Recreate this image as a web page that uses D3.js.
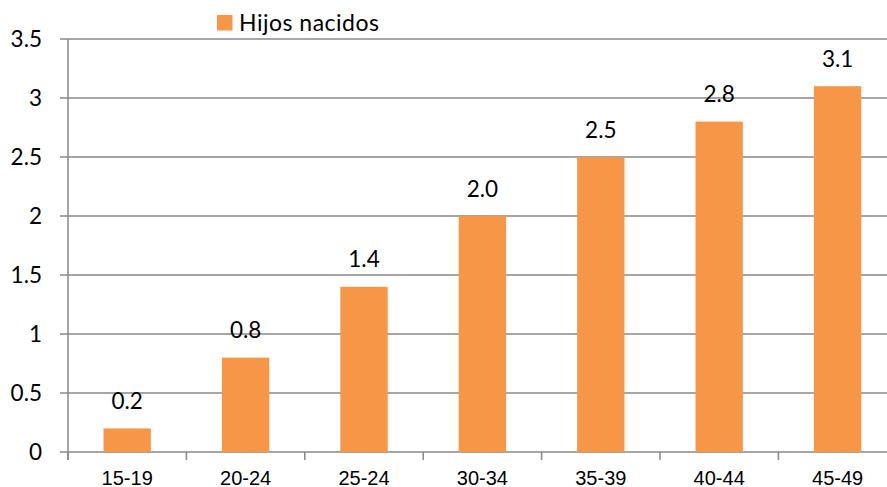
<!DOCTYPE html>
<html><head><meta charset="utf-8">
<script src="https://cdn.jsdelivr.net/npm/d3@7"></script>
<style>body{margin:0;background:#fff;}svg{display:block;}</style>
</head><body>
<svg id="c" width="887" height="487"></svg>
<script>
const categories = ["15-19","20-24","25-24","30-34","35-39","40-44","45-49"];
const values = [0.2, 0.8, 1.4, 2.0, 2.5, 2.8, 3.1];
const yTicks = [0, 0.5, 1, 1.5, 2, 2.5, 3, 3.5];
const seriesName = "Hijos nacidos";

(function(){
const svg = d3.select("#c");
const mLeft = 68, mTop = 39, mBottom = 452, bandW = 118.4;
const mRight = mLeft + bandW * categories.length;
const color = "#F79646", grid = "#888888";
const numFont = "Lato, 'Open Sans', sans-serif";

const x = d3.scaleBand().domain(categories).range([mLeft, mRight]).paddingInner(0.6).paddingOuter(0.3);
const y = d3.scaleLinear().domain([0, 3.5]).range([mBottom, mTop]);

// gridlines
svg.append("g").selectAll("line").data(yTicks).join("line")
  .attr("x1", mLeft - 8).attr("x2", 887)
  .attr("y1", d => y(d)).attr("y2", d => y(d))
  .attr("stroke", grid).attr("stroke-width", 1.5);

// bars
svg.append("g").selectAll("rect").data(values).join("rect")
  .attr("x", (d,i) => x(categories[i])).attr("width", x.bandwidth())
  .attr("y", d => y(d)).attr("height", d => y(0) - y(d))
  .attr("fill", color);

// y axis line
svg.append("line").attr("x1", mLeft).attr("x2", mLeft).attr("y1", mTop).attr("y2", mBottom + 8)
  .attr("stroke", grid).attr("stroke-width", 1.5);

// x ticks at band boundaries
const bounds = d3.range(categories.length + 1).map(i => mLeft + i * bandW);
svg.append("g").selectAll("line").data(bounds).join("line")
  .attr("x1", d => d).attr("x2", d => d).attr("y1", mBottom).attr("y2", mBottom + 8)
  .attr("stroke", grid).attr("stroke-width", 1.5);

// y labels
svg.append("g").selectAll("text").data(yTicks).join("text")
  .attr("x", 42).attr("y", d => y(d)).attr("dy", "0.36em")
  .attr("text-anchor", "end").attr("font-family", numFont)
  .attr("font-size", 22.5).attr("fill", "#000").text(d => d);

// x labels
svg.append("g").selectAll("text").data(categories).join("text")
  .attr("x", d => x(d) + x.bandwidth()/2).attr("y", 484.5)
  .attr("text-anchor", "middle").attr("font-family", "'Liberation Sans', Arial, sans-serif")
  .attr("font-size", 20).attr("fill", "#000").text(d => d);

// data labels
svg.append("g").selectAll("text").data(values).join("text")
  .attr("x", (d,i) => x(categories[i]) + x.bandwidth()/2).attr("y", d => y(d) - 19.5)
  .attr("text-anchor", "middle").attr("font-family", numFont)
  .attr("font-size", 22.5).attr("fill", "#000").text(d => d.toFixed(1));

// legend
const lg = svg.append("g");
lg.append("rect").attr("x", 217).attr("y", 15).attr("width", 15.5).attr("height", 15.5).attr("fill", color);
lg.append("text").attr("x", 239).attr("y", 31).attr("font-family", numFont)
  .attr("font-size", 23).attr("fill", "#000").attr("textLength", 140).attr("lengthAdjust", "spacing")
  .text(seriesName);
})();
</script>
</body></html>
